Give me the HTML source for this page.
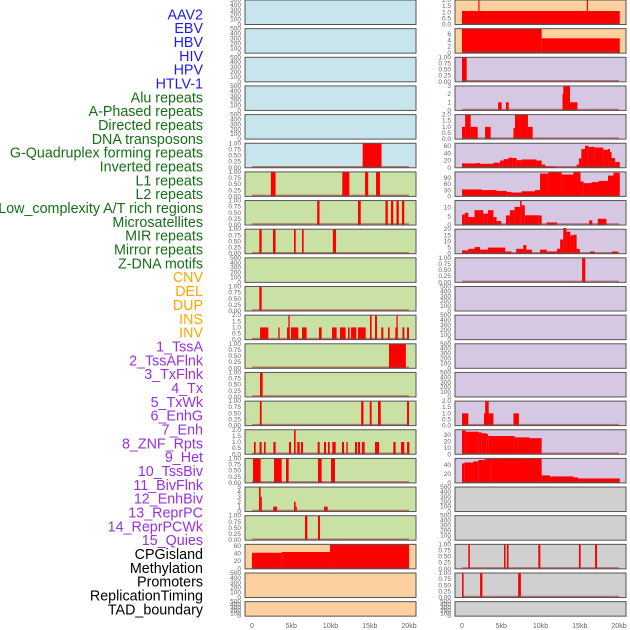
<!DOCTYPE html>
<html><head><meta charset="utf-8">
<style>
html,body{margin:0;padding:0;background:#fff;}
svg{display:block;font-family:"Liberation Sans",sans-serif;}
</style></head>
<body>
<svg id="chart" width="630" height="630" viewBox="0 0 630 630" xmlns="http://www.w3.org/2000/svg">
<g id="labels"></g>
<g id="panels"></g>
<g id="xaxes"></g>
</svg>
<script>
const NS="http://www.w3.org/2000/svg";
// ---- labels ----
const trackNames=["AAV2","EBV","HBV","HIV","HPV","HTLV-1","Alu repeats","A-Phased repeats","Directed repeats","DNA transposons","G-Quadruplex forming repeats","Inverted repeats","L1 repeats","L2 repeats","Low_complexity A/T rich regions","Microsatellites","MIR repeats","Mirror repeats","Z-DNA motifs","CNV","DEL","DUP","INS","INV","1_TssA","2_TssAFlnk","3_TxFlnk","4_Tx","5_TxWk","6_EnhG","7_Enh","8_ZNF_Rpts","9_Het","10_TssBiv","11_BivFlnk","12_EnhBiv","13_ReprPC","14_ReprPCWk","15_Quies","CPGisland","Methylation","Promoters","ReplicationTiming","TAD_boundary"];
const groupSizes=[6,13,5,15,5];
const groupColors=["#1a1aff","#157015","#ffa500","#9a30e0","#000000"];

// ---- panel data: segments are [startKb, endKb, value] ----
const xTicksKb=[0,5,10,15,20];
const xTickLabels=["0","5kb","10kb","15kb","20kb"];
const EMPTY=[];
const L5=[[14.1,16.5,1]];
const L6=[[2.4,3.0,1],[11.5,12.4,1],[14.4,14.8,1],[15.8,16.3,1]];
const L7=[[8.3,8.6,1],[13.5,13.85,1],[17.0,17.3,1],[17.7,18.0,1],[18.4,18.7,1],[19.1,19.4,1]];
const L8=[[0.93,1.23,1],[2.67,3.0,1],[5.35,5.57,1],[6.37,6.58,1],[10.3,10.7,1]];
const L10=[[0.93,1.23,1]];
const L11=[[1.02,2.08,1],[3.35,3.52,1],[4.46,4.8,1],[4.63,4.8,2],[4.97,5.9,1],[6.37,6.96,1],[8.53,8.87,1],[10.19,10.78,1],[11.2,11.93,1],[12.23,12.44,1],[12.61,13.29,1],[13.5,14.48,1],[15.03,15.24,2],[15.67,15.92,2],[16.47,16.73,1],[17.32,17.54,1],[18.26,18.56,1],[18.4,18.56,2],[19.16,19.41,1],[19.75,20.0,1]];
const L12=[[17.45,19.6,1]];
const L13=[[1.02,1.36,1]];
const L14=[[1.0,1.23,1],[13.9,14.2,1],[15.0,15.24,1],[16.05,16.4,1],[19.75,20.0,1]];
const L15=[[0.25,0.47,1],[0.96,1.23,1],[1.53,1.74,1],[2.72,3.01,1],[4.71,4.97,1],[5.35,5.56,2],[5.77,6.07,1],[6.24,6.5,1],[8.36,8.62,1],[9.17,9.43,1],[9.68,9.9,1],[10.23,10.66,1],[11.46,11.72,1],[12.02,12.19,1],[13.12,13.38,1],[13.5,13.76,1],[14.0,14.35,1],[15.67,16.18,1],[18.0,18.3,1],[18.98,19.4,1],[19.75,20.05,1]];
const L16=[[0.13,1.1,1],[2.8,3.78,1],[4.33,4.67,1],[8.4,8.87,1],[10.06,10.57,1]];
const L17=[[0.89,1.1,5],[1.1,1.23,3],[2.7,3.2,1],[5.35,5.56,2],[5.56,5.7,1],[9.17,9.64,1]];
const L18=[[6.75,7.05,1],[8.4,8.66,1]];
const L19=[[0,3.8,42],[3.8,9.94,44],[9.94,20,64]];
const R0=[[0,20.1,1.1],[2.08,2.2,2],[15.9,16.0,2]];
const R1=[[0,10.15,7.6],[10.15,20.1,4.6]];
const R2=[[0,0.6,1]];
const R3=[[4.6,5.05,1],[5.6,5.95,1],[12.8,12.9,2],[12.9,13.76,3],[13.76,14.7,1]];
const R4=[[0,0.4,1],[0.4,1.1,2],[1.1,2.0,1],[2.93,3.65,1],[6.55,6.75,0.9],[6.75,8.4,2],[8.4,9.0,1]];
const R5=[[0,1.8,12],[1.8,2.3,13],[2.3,4.0,11],[4.0,4.85,14],[4.85,5.3,20],[5.3,5.9,24],[5.9,6.4,28],[6.4,6.96,27],[6.96,7.6,21],[7.6,9.5,23],[9.5,10.15,20],[10.15,10.6,9],[10.6,11.9,3.5],[14.6,14.9,9],[14.9,15.2,26],[15.2,15.67,52],[15.67,16.1,61],[16.1,16.9,58],[16.9,18.0,56],[18.0,18.6,50],[18.6,18.85,52],[18.85,19.05,44],[19.05,19.5,27],[19.5,20.1,16]];
const R6=[[0,2.5,34],[2.5,4.4,31],[4.4,5.7,27],[5.7,6.3,22],[6.3,7.6,19],[7.6,9.3,25],[9.3,9.94,31],[9.94,11.0,112],[11.0,12.7,120],[12.7,14.2,107],[14.2,15.1,120],[15.1,15.5,73],[15.5,16.5,65],[16.5,17.4,70],[17.4,18.6,76],[18.6,19.3,102],[19.3,20.1,116]];
const R7=[[0,0.35,6],[0.35,0.8,7],[0.8,1.6,4.6],[1.6,2.7,8.5],[2.7,3.3,6.5],[3.3,4.0,8.5],[4.0,4.4,4.6],[4.4,5.0,2.3],[5.6,6.1,5.5],[6.1,6.7,8.5],[6.7,7.4,10.4],[7.4,7.6,14],[7.6,8.0,11.3],[8.0,9.7,5.6],[9.7,10.15,5.5],[10.8,12.1,1.5],[16.2,16.6,2.7],[17.3,18.4,3.6]];
const R8=[[0,0.8,2.7],[0.8,1.6,4],[1.6,2.3,5.4],[2.3,3.3,3.3],[3.3,5.5,5],[5.5,6.3,1.8],[6.9,7.8,4],[7.8,8.2,7],[8.2,8.9,3.3],[9.94,10.8,3.3],[10.8,12.1,1.8],[12.1,12.5,4],[12.5,12.9,11.6],[12.9,13.3,21],[13.3,13.8,18],[13.8,14.2,15],[14.2,14.6,15.5],[14.6,15.0,4],[16.3,16.9,1.8],[19.1,19.9,1.8]];
const R9=[[15.3,15.7,1]];
const R14=[[0,0.8,1],[2.8,4.0,1],[2.95,3.4,2],[6.55,7.25,1]];
const R15=[[0,0.47,37],[0.47,2.08,35],[2.08,2.5,34],[2.5,3.1,32.6],[3.1,3.33,31.5],[3.33,6.7,28.3],[6.7,8.6,26.2],[8.6,10.15,25]];
const R16=[[0,0.3,43],[0.3,1.45,45],[1.45,2.08,47.5],[2.08,2.93,50.5],[2.93,3.78,53],[3.78,10.15,54],[10.15,11.2,16.6],[11.2,14.2,14.3],[14.2,14.8,12],[14.8,20.1,9.8]];
const R19=[[0.8,1.0,1],[5.35,5.55,1],[5.73,5.93,1],[9.72,9.98,1],[14.9,15.12,1],[16.95,17.2,1]];
const R20=[[0,0.2,1],[2.3,2.6,1],[7.15,7.5,1]];

const FILL={b:"#c8e4ec",g:"#c9e1a5",o:"#fdd0a0",p:"#d6c7e2",k:"#d0d0d0"};
const T500=[0,100,200,300,400,500], T1=[0,0.25,0.5,0.75,1], T2=[0,0.5,1,1.5,2];
// [col,row,fill,ymax,ticks,decimals,segs]
const panels=[
 [0,0,"b",500,T500,0,EMPTY],[0,1,"b",500,T500,0,EMPTY],[0,2,"b",500,T500,0,EMPTY],[0,3,"b",500,T500,0,EMPTY],[0,4,"b",500,T500,0,EMPTY],
 [0,5,"b",1,T1,2,L5],[0,6,"g",1,T1,2,L6],[0,7,"g",1,T1,2,L7],[0,8,"g",1,T1,2,L8],[0,9,"g",500,T500,0,EMPTY],
 [0,10,"g",1,T1,2,L10],[0,11,"g",2,T2,1,L11],[0,12,"g",1,T1,2,L12],[0,13,"g",1,T1,2,L13],[0,14,"g",1,T1,2,L14],
 [0,15,"g",2,T2,1,L15],[0,16,"g",1,T1,2,L16],[0,17,"g",5,[0,1,2,3,4,5],0,L17],[0,18,"g",1,T1,2,L18],
 [0,19,"o",64,[0,20,40,60],0,L19],[0,20,"o",500,T500,0,EMPTY],[0,21,"o",500,T500,0,EMPTY],
 [1,0,"o",2,T2,1,R0],[1,1,"o",7.6,[0,2,4,6],0,R1],[1,2,"p",1,T1,2,R2],[1,3,"p",3,[0,1,2,3],0,R3],
 [1,4,"p",2,T2,1,R4],[1,5,"p",68,[0,20,40,60],0,R5],[1,6,"p",120,[0,30,60,90],0,R6],[1,7,"p",14,[0,5,10],0,R7],
 [1,8,"p",20,[0,5,10,15,20],0,R8],[1,9,"p",1,T1,2,R9],[1,10,"p",500,T500,0,EMPTY],[1,11,"p",500,T500,0,EMPTY],
 [1,12,"p",500,T500,0,EMPTY],[1,13,"p",500,T500,0,EMPTY],[1,14,"p",2,T2,1,R14],[1,15,"p",38,[0,10,20,30],0,R15],
 [1,16,"p",54,[0,20,40],0,R16],[1,17,"k",500,T500,0,EMPTY],[1,18,"k",500,T500,0,EMPTY],
 [1,19,"k",1,T1,2,R19],[1,20,"k",1,T1,2,R20],[1,21,"k",500,T500,0,EMPTY]
];

function mk(tag,attrs,parent){const e=document.createElementNS(NS,tag);for(const k in attrs)e.setAttribute(k,attrs[k]);parent.appendChild(e);return e;}

// labels
const lg=document.getElementById("labels");
let gi=0,cnt=0;
trackNames.forEach((n,i)=>{
  while(cnt>=groupSizes[gi]){gi++;cnt=0;}
  cnt++;
  const t=mk("text",{x:203,y:15.5+i*13.84,"text-anchor":"end","dominant-baseline":"middle","font-size":"14.3",fill:groupColors[gi]},lg);
  
  
  t.textContent=n;
});

const COLX=[245,455], PW=171, ZERO=[252,462], PXKB=7.85;
function xs(col,kb){return ZERO[col]+kb*PXKB;}
function rowTop(r){return r*28.65;}
function rowH(r){return r===21?14.5:24.5;}

const pg=document.getElementById("panels");
panels.forEach(p=>{
  const [col,row,f,ymax,ticks,dec,segs]=p;
  const top=rowTop(row), h=rowH(row), bot=top+h;
  const g=mk("g",{},pg);
  
  
  mk("rect",{x:COLX[col],y:top,width:PW,height:h,fill:FILL[f]},g);
  const ys=v=>bot-(v/ymax)*h;
  segs.forEach(s=>{
    const x0=xs(col,s[0]),x1=xs(col,s[1]);
    const r=mk("rect",{x:x0,y:ys(s[2]),width:Math.max(1.2,x1-x0),height:bot-ys(s[2]),fill:"#ff0000"},g);
    
    
  });
  if(segs.length){
    const b=mk("line",{x1:xs(col,0),x2:xs(col,20),y1:bot-1,y2:bot-1,stroke:"#a83030","stroke-width":1.5,opacity:0.6},g);
    
    
  }
  mk("rect",{x:COLX[col],y:top,width:PW,height:h,fill:"none",stroke:"#555","stroke-width":1},g);
  ticks.forEach(t=>{
    const tl=mk("text",{x:COLX[col]-4,y:ys(t)+2,"text-anchor":"end","font-size":"6.5",fill:"#666"},g);
    
    
    tl.textContent=t.toFixed(dec);
  });
});

const xg=document.getElementById("xaxes");
[0,1].forEach(col=>{
  xTicksKb.forEach((k,i)=>{
    const t=mk("text",{x:xs(col,k),y:628,"text-anchor":"middle","font-size":"7",fill:"#666"},xg);
    
    
    t.textContent=xTickLabels[i];
  });
});
</script>
</body></html>
